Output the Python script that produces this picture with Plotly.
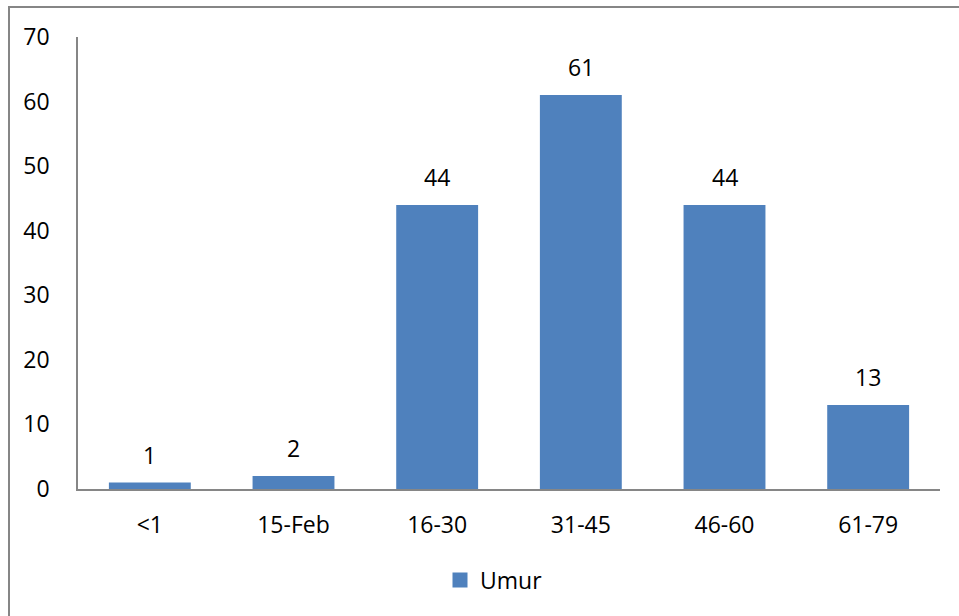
import plotly.graph_objects as go

categories = ["<1", "15-Feb", "16-30", "31-45", "46-60", "61-79"]
umur = [1, 2, 44, 61, 44, 13]
y_ticks = [0, 10, 20, 30, 40, 50, 60, 70]

W, H = 959, 616
L, R, T, B = 78, 19, 37, 127
pw = W - L - R
ph = H - T - B

def px_x(x):
    return (x - L) / pw

def px_y(y):
    return (H - B - y) / ph

FONT = "Open Sans"
BAR_COLOR = "#4F81BD"

fig = go.Figure()
fig.add_trace(
    go.Bar(
        x=categories,
        y=umur,
        name="Umur",
        marker=dict(color=BAR_COLOR, line=dict(width=0)),
        width=0.57,
        showlegend=False,
    )
)
# legend entry with a square swatch
fig.add_trace(
    go.Scatter(
        x=[None], y=[None], mode="markers", name="Umur",
        marker=dict(symbol="square", size=15, color=BAR_COLOR),
        showlegend=True,
    )
)

# value labels above each bar
for c, v in zip(categories, umur):
    fig.add_annotation(
        x=c, y=v, text=str(v), showarrow=False,
        yanchor="bottom", yshift=10,
        font=dict(size=23, color="#000000", family=FONT),
    )

# outer chart frame (left and top edges)
fig.add_shape(
    type="path",
    xref="paper", yref="paper",
    path=f"M {px_x(9)} {px_y(640)} L {px_x(9)} {px_y(7)} L {px_x(980)} {px_y(7)}",
    line=dict(color="#868686", width=2),
)

fig.update_layout(
    width=W, height=H,
    margin=dict(l=L, r=R, t=T, b=B),
    paper_bgcolor="white",
    plot_bgcolor="white",
    font=dict(family=FONT, size=23, color="#000000"),
    showlegend=True,
    legend=dict(
        orientation="h",
        x=px_x(440), xanchor="left",
        y=px_y(580), yanchor="middle",
        font=dict(size=23),
        itemwidth=30,
    ),
    xaxis=dict(
        showline=True, linecolor="#868686", linewidth=1.5,
        ticks="", showgrid=False,
        tickfont=dict(size=23),
        ticklabelstandoff=15,
    ),
    yaxis=dict(
        range=[0, 70],
        tickvals=y_ticks,
        showline=True, linecolor="#868686", linewidth=1.5,
        ticks="", showgrid=False, zeroline=False,
        tickfont=dict(size=23),
        ticklabelstandoff=22,
    ),
    bargap=0.43,
)

fig.write_html("out.html")
